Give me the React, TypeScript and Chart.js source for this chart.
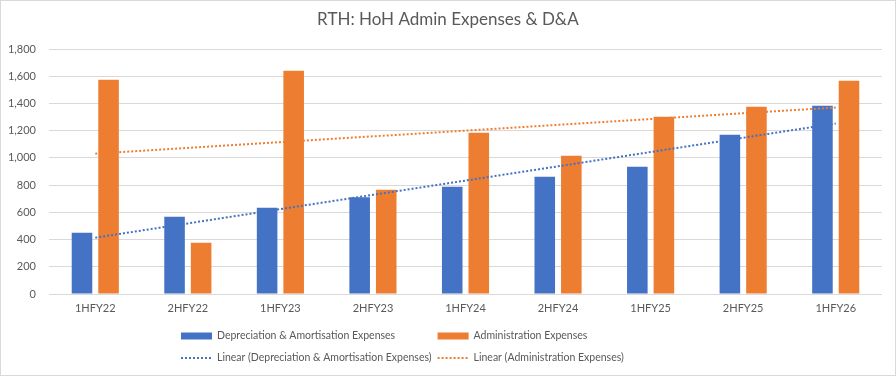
import React, { useEffect, useRef } from 'react';
import { Chart, registerables } from 'chart.js';

Chart.register(...registerables);

const categories = ['1HFY22', '2HFY22', '1HFY23', '2HFY23', '1HFY24', '2HFY24', '1HFY25', '2HFY25', '1HFY26'];
const daExpenses = [450, 568, 634, 710, 788, 862, 935, 1170, 1383];
const adminExpenses = [1574, 377, 1641, 766, 1185, 1016, 1303, 1376, 1567];
const yMin = 0;
const yMax = 1800;
const yStep = 200;

const titleText = 'RTH: HoH Admin Expenses & D&A';
const seriesLabels = [
  'Depreciation & Amortisation Expenses',
  'Administration Expenses',
  'Linear (Depreciation & Amortisation Expenses)',
  'Linear (Administration Expenses)',
];

const BLUE = '#4472C4';
const ORANGE = '#ED7D31';
const TEXT = '#595959';
const GRID = '#d9d9d9';
const FONT = 'Lato';

// Least-squares linear trend, as Excel's "Linear" trendline
function linearTrend(values: number[]): number[] {
  const n = values.length;
  const mx = (n - 1) / 2;
  const my = values.reduce((a, b) => a + b, 0) / n;
  let num = 0;
  let den = 0;
  values.forEach((v, i) => {
    num += (i - mx) * (v - my);
    den += (i - mx) * (i - mx);
  });
  const slope = num / den;
  return values.map((_, i) => my + slope * (i - mx));
}

const decorPlugin = {
  id: 'decor',
  afterDraw(chart: any) {
    const ctx = chart.ctx as CanvasRenderingContext2D;
    const w = chart.width;
    const h = chart.height;
    ctx.save();
    // title
    ctx.fillStyle = TEXT;
    ctx.font = `17px ${FONT}`;
    ctx.textAlign = 'center';
    ctx.textBaseline = 'middle';
    ctx.fillText(titleText, w / 2, 20);

    // legend
    ctx.font = `10.5px ${FONT}`;
    ctx.textAlign = 'left';
    const ds = chart.data.datasets;
    const col0 = 181;
    const col0Text = Math.max(ctx.measureText(ds[0].label).width, ctx.measureText(ds[2].label).width);
    const cols = [col0, Math.max(433, col0 + 36 + col0Text + 6)];
    const rows = [h - 40, h - 18];
    const layout = [
      [0, 0, 0],
      [1, 1, 0],
      [2, 0, 1],
      [3, 1, 1],
    ];
    layout.forEach(([di, c, r]) => {
      const d = ds[di];
      const x = cols[c];
      const y = rows[r];
      if (d.type === 'line') {
        ctx.strokeStyle = d.borderColor;
        ctx.lineWidth = 2;
        ctx.setLineDash([2, 2]);
        ctx.beginPath();
        ctx.moveTo(x, y);
        ctx.lineTo(x + 31, y);
        ctx.stroke();
        ctx.setLineDash([]);
      } else {
        ctx.fillStyle = d.backgroundColor;
        ctx.fillRect(x, y - 3.5, 31, 7);
      }
      ctx.fillStyle = TEXT;
      ctx.fillText(d.label, x + 36, y);
    });

    // chart border
    ctx.strokeStyle = GRID;
    ctx.lineWidth = 1;
    ctx.strokeRect(0.5, 0.5, w - 1, h - 1);
    ctx.restore();
  },
};

export default function App() {
  const ref = useRef<HTMLCanvasElement | null>(null);

  useEffect(() => {
    if (!ref.current) return;
    const chart = new Chart(ref.current, {
      type: 'bar',
      data: {
        labels: categories,
        datasets: [
          {
            type: 'bar',
            label: seriesLabels[0],
            data: daExpenses,
            backgroundColor: BLUE,
            order: 1,
            categoryPercentage: 0.574,
            barPercentage: 0.774,
          },
          {
            type: 'bar',
            label: seriesLabels[1],
            data: adminExpenses,
            backgroundColor: ORANGE,
            order: 1,
            categoryPercentage: 0.574,
            barPercentage: 0.774,
          },
          {
            type: 'line',
            label: seriesLabels[2],
            data: linearTrend(daExpenses),
            borderColor: BLUE,
            backgroundColor: BLUE,
            borderWidth: 2,
            borderDash: [2, 2],
            pointRadius: 0,
            fill: false,
            order: 0,
          },
          {
            type: 'line',
            label: seriesLabels[3],
            data: linearTrend(adminExpenses),
            borderColor: ORANGE,
            backgroundColor: ORANGE,
            borderWidth: 2,
            borderDash: [2, 2],
            pointRadius: 0,
            fill: false,
            order: 0,
          },
        ] as any,
      },
      options: {
        responsive: false,
        animation: false,
        layout: { padding: { left: 0, right: 14, top: 49, bottom: 52 } },
        plugins: {
          legend: { display: false },
          title: { display: false },
          tooltip: { enabled: false },
        },
        scales: {
          x: {
            offset: true,
            grid: { display: false, drawTicks: false },
            border: { display: false },
            ticks: { color: TEXT, font: { family: FONT, size: 11 }, padding: 8, maxRotation: 0 },
            afterFit: (scale: any) => {
              scale.height = 30;
            },
          },
          y: {
            min: yMin,
            max: yMax,
            grid: { color: GRID, drawTicks: false, lineWidth: 1 },
            border: { display: false },
            ticks: {
              stepSize: yStep,
              color: TEXT,
              font: { family: FONT, size: 11 },
              padding: 13,
              callback: (v: any) => Number(v).toLocaleString('en-US'),
            },
            afterFit: (scale: any) => {
              scale.width = 49;
            },
          },
        },
      },
      plugins: [decorPlugin],
    });
    return () => chart.destroy();
  }, []);

  return (
    <div style={{ position: 'absolute', left: 0, top: 0, width: 896, height: 376, background: '#fff' }}>
      <canvas ref={ref} width={896} height={376} />
    </div>
  );
}
